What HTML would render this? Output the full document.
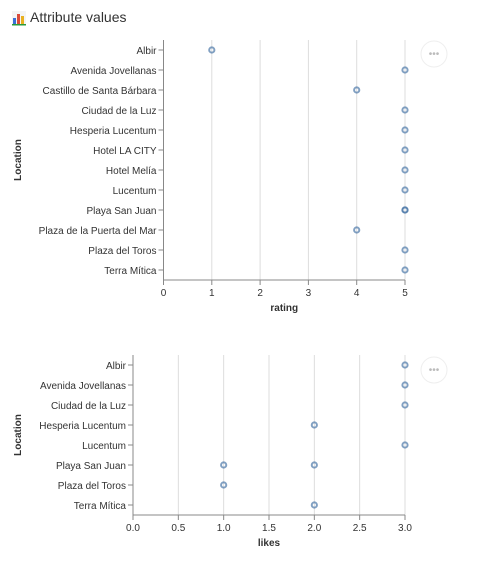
<!DOCTYPE html>
<html><head><meta charset="utf-8"><style>
body{margin:0;background:#fff;font-family:"Liberation Sans",sans-serif;}
svg text{font-family:"Liberation Sans",sans-serif;}
</style></head><body>
<svg width="484" height="561">
<g>
<rect x="12" y="11" width="14" height="14" fill="#f4f4f4"/>
<rect x="13" y="18" width="3" height="6" fill="#3b6fd6"/>
<rect x="17" y="14" width="3" height="10" fill="#d94a3a"/>
<rect x="21" y="16" width="3" height="8" fill="#e8b020"/>
<rect x="12" y="24" width="14" height="1.5" fill="#2a9a3a"/>
</g>
<text x="30" y="22" font-size="14" fill="#333">Attribute values</text>
<g id="c1"></g>
<g id="c2"></g>
<circle cx="434" cy="54" r="13" fill="#fff" stroke="#eee"/>
<text x="434" y="57" font-size="10" fill="#bbb" text-anchor="middle">•••</text>
<circle cx="434" cy="370" r="13" fill="#fff" stroke="#eee"/>
<text x="434" y="373" font-size="10" fill="#bbb" text-anchor="middle">•••</text>
</svg>
<script>
const ratingCategories=["Albir","Avenida Jovellanas","Castillo de Santa Bárbara","Ciudad de la Luz","Hesperia Lucentum","Hotel LA CITY","Hotel Melía","Lucentum","Playa San Juan","Plaza de la Puerta del Mar","Plaza del Toros","Terra Mítica"];
const ratingPointCat=["Albir","Avenida Jovellanas","Castillo de Santa Bárbara","Ciudad de la Luz","Hesperia Lucentum","Hotel LA CITY","Hotel Melía","Lucentum","Playa San Juan","Playa San Juan","Plaza de la Puerta del Mar","Plaza del Toros","Terra Mítica"];
const ratingValues=[1,5,4,5,5,5,5,5,5,5,4,5,5];
const ratingTicks=["0","1","2","3","4","5"];
const likesCategories=["Albir","Avenida Jovellanas","Ciudad de la Luz","Hesperia Lucentum","Lucentum","Playa San Juan","Plaza del Toros","Terra Mítica"];
const likesPointCat=["Albir","Avenida Jovellanas","Ciudad de la Luz","Hesperia Lucentum","Lucentum","Playa San Juan","Playa San Juan","Plaza del Toros","Terra Mítica"];
const likesValues=[3,3,3,2,3,1,2,1,2];
const likesTicks=["0.0","0.5","1.0","1.5","2.0","2.5","3.0"];
const NS="http://www.w3.org/2000/svg";
function mk(p,t,a){const e=document.createElementNS(NS,t);for(const k in a)e.setAttribute(k,a[k]);p.appendChild(e);return e;}
function draw(g,cats,pcat,vals,ticks,x0,x1,y0,max,title){
 const n=cats.length,y1=y0+n*20;
 const xs=v=>x0+(x1-x0)*v/max, ys=c=>y0+10+cats.indexOf(c)*20;
 ticks.forEach(t=>{const x=xs(parseFloat(t));
  const l=mk(g,"line",{x1:x,x2:x,y1:y0,y2:y1,stroke:"#ddd"});
  
  
  mk(g,"line",{x1:x,x2:x,y1:y1,y2:y1+5,stroke:"#888"});
  const tx=mk(g,"text",{x:x,y:y1+16,"font-size":10,fill:"#333","text-anchor":"middle"});tx.textContent=t;
  
  
 });
 mk(g,"line",{x1:x0,x2:x1,y1:y1,y2:y1,stroke:"#888"});
 mk(g,"line",{x1:x0,x2:x0,y1:y0,y2:y1,stroke:"#888"});
 cats.forEach(c=>{const y=ys(c);
  mk(g,"line",{x1:x0-5,x2:x0,y1:y,y2:y,stroke:"#888"});
  const tx=mk(g,"text",{x:x0-7,y:y+4,"font-size":10,fill:"#333","text-anchor":"end"});tx.textContent=c;
  
  
 });
 vals.forEach((v,i)=>{const c=mk(g,"circle",{cx:xs(v),cy:ys(pcat[i]),r:2.6,fill:"none",stroke:"#4c78a8","stroke-width":2,"stroke-opacity":0.7});
  
  
 });
 const xt=mk(g,"text",{x:(x0+x1)/2,y:y1+31,"font-size":10,"font-weight":"bold",fill:"#333","text-anchor":"middle"});xt.textContent=title;
 
 
 const yt=mk(g,"text",{x:0,y:0,"font-size":10,"font-weight":"bold",fill:"#333","text-anchor":"middle",transform:`translate(21,${(y0+y1)/2}) rotate(-90)`});yt.textContent="Location";
 
 
}
draw(document.getElementById("c1"),ratingCategories,ratingPointCat,ratingValues,ratingTicks,163.5,405,40,5,"rating");
draw(document.getElementById("c2"),likesCategories,likesPointCat,likesValues,likesTicks,133,405,355,3,"likes");
</script>
</body></html>
